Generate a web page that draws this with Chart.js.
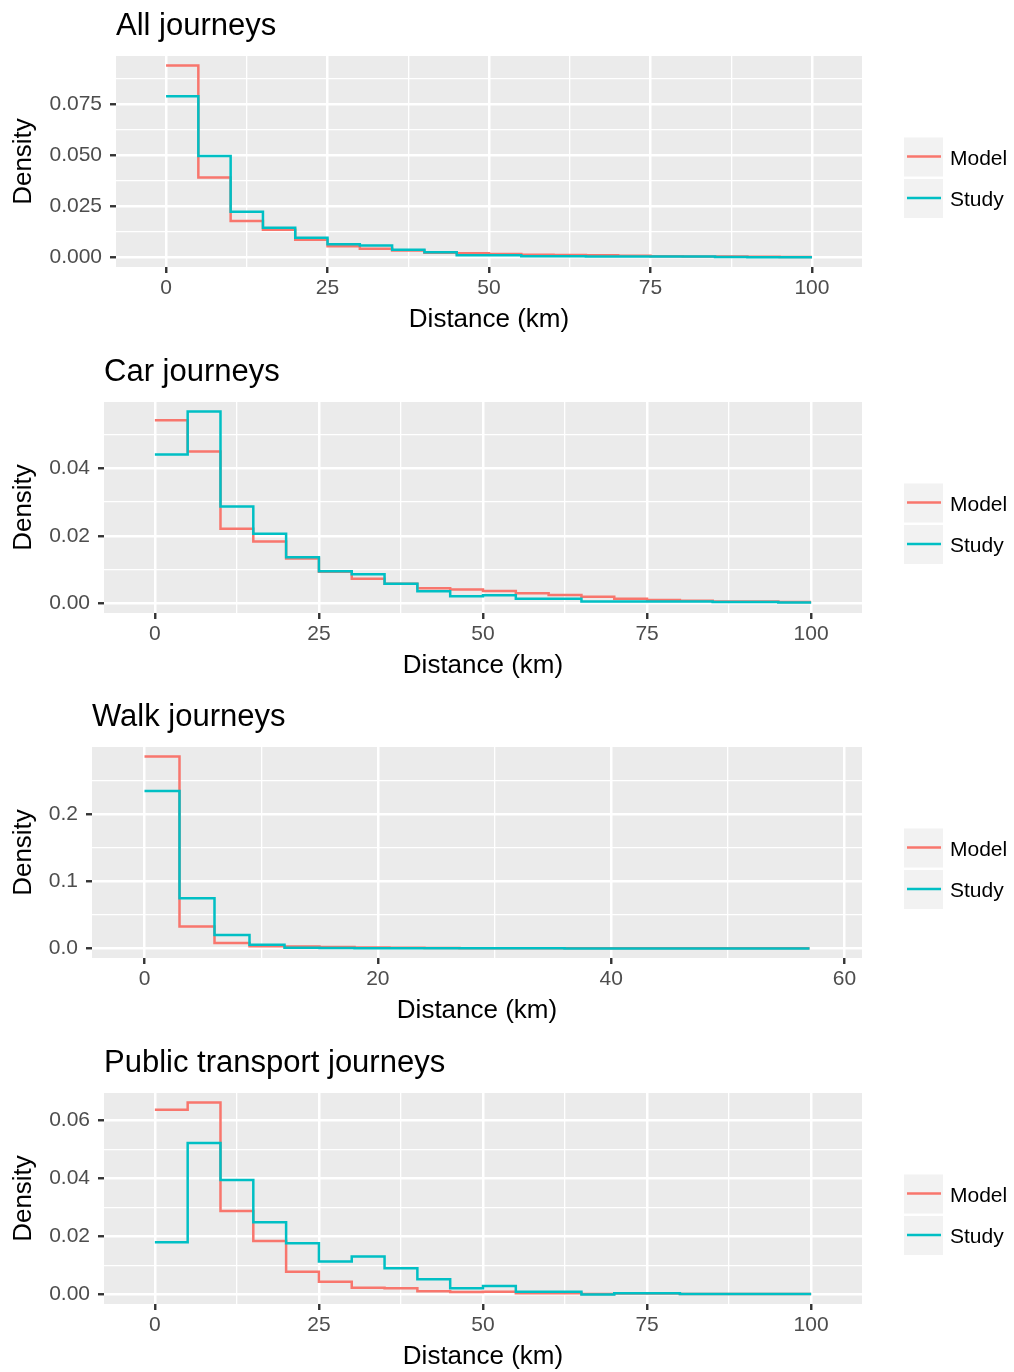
<!DOCTYPE html>
<html>
<head>
<meta charset="utf-8">
<script src="https://cdn.jsdelivr.net/npm/chart.js@4.4.1/dist/chart.umd.min.js"></script>
<style>
  body { margin: 0; background: #fff; width: 1014px; height: 1372px; overflow: hidden; position: relative; }
  canvas { position: absolute; left: 0; }
</style>
</head>
<body>
<canvas id="allChart" width="1014" height="346" style="top:0px"></canvas>
<canvas id="carChart" width="1014" height="346" style="top:346px"></canvas>
<canvas id="walkChart" width="1014" height="346" style="top:691px"></canvas>
<canvas id="ptChart" width="1014" height="346" style="top:1037px"></canvas>
<script>
// bin edges (km)
const edges5 = [0, 5, 10, 15, 20, 25, 30, 35, 40, 45, 50, 55, 60, 65, 70, 75, 80, 85, 90, 95, 100];
const edges3 = [0, 3, 6, 9, 12, 15, 18, 21, 24, 27, 30, 33, 36, 39, 42, 45, 48, 51, 54, 57];

// densities per bin
const allModel = [0.0941, 0.0392, 0.0178, 0.0136, 0.0087, 0.0055, 0.0043, 0.0034, 0.0023, 0.0020,
                  0.0017, 0.0013, 0.0012, 0.0010, 0.0008, 0.0006, 0.0005, 0.0004, 0.0003, 0.0002];
const allStudy = [0.0791, 0.0497, 0.0224, 0.0146, 0.0097, 0.0064, 0.0059, 0.0038, 0.0025, 0.0011,
                  0.0011, 0.0006, 0.0006, 0.0004, 0.0004, 0.0004, 0.0004, 0.0002, 0.0001, 0.0001];

const carModel = [0.0542, 0.0450, 0.0221, 0.0183, 0.0133, 0.0094, 0.0073, 0.0058, 0.0045, 0.0041,
                  0.0037, 0.0030, 0.0025, 0.0020, 0.0014, 0.0010, 0.0008, 0.0006, 0.0006, 0.0004];
const carStudy = [0.0441, 0.0568, 0.0287, 0.0206, 0.0137, 0.0095, 0.0086, 0.0058, 0.0036, 0.0021,
                  0.0024, 0.0014, 0.0014, 0.0006, 0.0006, 0.0006, 0.0006, 0.0004, 0.0004, 0.0003];

const walkModel = [0.2856, 0.0325, 0.0080, 0.0032, 0.0028, 0.0022, 0.0012, 0.0008, 0.0005, 0.0004,
                   0.0003, 0.0002, 0.0002, 0.0001, 0.0001, 0.0001, 0.0001, 0.0001, 0.0001];
const walkStudy = [0.2343, 0.0746, 0.0200, 0.0055, 0.0008, 0.0005, 0.0003, 0.0002, 0.0001, 0.0001,
                   0.0001, 0.0001, 0, 0, 0, 0, 0, 0, 0];

const ptModel = [0.0636, 0.0661, 0.0287, 0.0184, 0.0078, 0.0044, 0.0023, 0.0021, 0.0011, 0.0008,
                 0.0009, 0.0004, 0.0004, 0.0001, 0.0003, 0.0003, 0.0001, 0.0001, 0.0001, 0.0001];
const ptStudy = [0.0180, 0.0522, 0.0394, 0.0249, 0.0176, 0.0113, 0.0131, 0.0090, 0.0052, 0.0021,
                 0.0029, 0.0009, 0.0009, 0.0000, 0.0004, 0.0004, 0.0001, 0.0001, 0.0001, 0.0001];

// axis breaks (major + minor) and labels
const xBreaks100 = [0, 12.5, 25, 37.5, 50, 62.5, 75, 87.5, 100];
const xMajor100 = [0, 25, 50, 75, 100];
const xLabels100 = ['0', '25', '50', '75', '100'];
const xBreaks60 = [0, 10, 20, 30, 40, 50, 60];
const xMajor60 = [0, 20, 40, 60];
const xLabels60 = ['0', '20', '40', '60'];

const yBreaksAll = [0, 0.0125, 0.025, 0.0375, 0.05, 0.0625, 0.075, 0.0875];
const yMajorAll = [0, 0.025, 0.05, 0.075];
const yLabelsAll = ['0.000', '0.025', '0.050', '0.075'];
const yBreaksCar = [0, 0.01, 0.02, 0.03, 0.04, 0.05];
const yMajorCar = [0, 0.02, 0.04];
const yLabelsCar = ['0.00', '0.02', '0.04'];
const yBreaksWalk = [0, 0.05, 0.1, 0.15, 0.2, 0.25];
const yMajorWalk = [0, 0.1, 0.2];
const yLabelsWalk = ['0.0', '0.1', '0.2'];
const yBreaksPt = [0, 0.01, 0.02, 0.03, 0.04, 0.05, 0.06];
const yMajorPt = [0, 0.02, 0.04, 0.06];
const yLabelsPt = ['0.00', '0.02', '0.04', '0.06'];

const MODEL_COL = '#F8766D';
const STUDY_COL = '#00BFC4';

Chart.defaults.font.family = '"Liberation Sans", Arial, sans-serif';

const isIn = (list, v) => list.some(m => Math.abs(m - v) < 1e-9);

// grey panel, title and legend keys like ggplot
const ggPlugin = {
  id: 'gg',
  beforeDraw(chart) {
    const {ctx, chartArea: a} = chart;
    ctx.save();
    ctx.fillStyle = '#EBEBEB';
    ctx.fillRect(a.left, a.top, a.right - a.left, a.bottom - a.top);
    ctx.restore();
  },
  afterDraw(chart, args, o) {
    const {ctx, chartArea: a} = chart;
    ctx.save();
    ctx.fillStyle = '#000';
    ctx.textBaseline = 'alphabetic';
    ctx.font = '31px "Liberation Sans"';
    ctx.fillText(o.title, a.left, 35);
    chart.data.datasets.forEach((ds, i) => {
      const top = 137.5 + i * 41.5;
      ctx.fillStyle = '#F2F2F2';
      ctx.fillRect(904, top, 39, 39);
      ctx.strokeStyle = ds.borderColor;
      ctx.lineWidth = 2.5;
      ctx.beginPath();
      ctx.moveTo(907, top + 19);
      ctx.lineTo(941, top + 19);
      ctx.stroke();
      ctx.fillStyle = '#000';
      ctx.font = '21px "Liberation Sans"';
      ctx.fillText(ds.label, 950, top + 27);
    });
    ctx.restore();
  }
};

function stepPoints(edges, vals) {
  const pts = vals.map((v, i) => ({x: edges[i], y: v}));
  pts.push({x: edges[vals.length], y: vals[vals.length - 1]});
  return pts;
}

function makePanel(id, p) {
  const bw = p.edges[1] - p.edges[0];
  const lo = p.edges[0] - bw / 2, hi = p.edges[p.model.length] + bw / 2;
  const xPad = (hi - lo) * 0.05;
  const yTop = Math.max(...p.model, ...p.study);
  const axisGrid = major => ({
    color: '#FFFFFF',
    lineWidth: c => isIn(major, c.tick.value) ? 2.5 : 1.3,
    drawTicks: true,
    tickLength: 6,
    tickWidth: 2.4,
    tickColor: c => isIn(major, c.tick.value) ? '#333333' : 'rgba(0,0,0,0)'
  });

  new Chart(document.getElementById(id), {
    type: 'line',
    data: {
      datasets: [
        { label: 'Model', data: stepPoints(p.edges, p.model), borderColor: MODEL_COL, order: 1 },
        { label: 'Study', data: stepPoints(p.edges, p.study), borderColor: STUDY_COL, order: 0 }
      ]
    },
    options: {
      responsive: false,
      animation: false,
      devicePixelRatio: 1,
      layout: { padding: { top: 56, right: 152, left: 0, bottom: 0 } },
      elements: {
        line: { borderWidth: 2.5, stepped: true, tension: 0, fill: false },
        point: { radius: 0, hoverRadius: 0 }
      },
      plugins: {
        legend: { display: false },
        tooltip: { enabled: false },
        gg: { title: p.title }
      },
      scales: {
        x: {
          type: 'linear',
          min: lo - xPad,
          max: hi + xPad,
          afterBuildTicks: s => { s.ticks = p.xBreaks.map(v => ({value: v})); },
          afterFit: s => { s.height = 79; },
          border: { display: false },
          grid: axisGrid(p.xMajor),
          ticks: {
            autoSkip: false,
            maxRotation: 0,
            padding: 3,
            color: '#4D4D4D',
            font: { size: 21 },
            callback: v => isIn(p.xMajor, v) ? p.xLabels[p.xMajor.findIndex(m => Math.abs(m - v) < 1e-9)] : ''
          },
          title: {
            display: true,
            text: 'Distance (km)',
            color: '#000',
            font: { size: 26 },
            padding: { top: 0, bottom: 10.4 }
          }
        },
        y: {
          type: 'linear',
          min: -yTop * 0.05,
          max: yTop * 1.05,
          afterBuildTicks: s => { s.ticks = p.yBreaks.map(v => ({value: v})); },
          afterFit: s => { s.width = p.left; },
          border: { display: false },
          grid: axisGrid(p.yMajor),
          ticks: {
            autoSkip: false,
            padding: 8,
            color: '#4D4D4D',
            font: { size: 21 },
            callback: v => isIn(p.yMajor, v) ? p.yLabels[p.yMajor.findIndex(m => Math.abs(m - v) < 1e-9)] : ''
          },
          title: {
            display: true,
            text: 'Density',
            color: '#000',
            font: { size: 26 },
            padding: { top: 8.4, bottom: 0 }
          }
        }
      }
    },
    plugins: [ggPlugin]
  });
}

makePanel('allChart', {
  title: 'All journeys', left: 116, edges: edges5, model: allModel, study: allStudy,
  xBreaks: xBreaks100, xMajor: xMajor100, xLabels: xLabels100,
  yBreaks: yBreaksAll, yMajor: yMajorAll, yLabels: yLabelsAll
});
makePanel('carChart', {
  title: 'Car journeys', left: 104, edges: edges5, model: carModel, study: carStudy,
  xBreaks: xBreaks100, xMajor: xMajor100, xLabels: xLabels100,
  yBreaks: yBreaksCar, yMajor: yMajorCar, yLabels: yLabelsCar
});
makePanel('walkChart', {
  title: 'Walk journeys', left: 92, edges: edges3, model: walkModel, study: walkStudy,
  xBreaks: xBreaks60, xMajor: xMajor60, xLabels: xLabels60,
  yBreaks: yBreaksWalk, yMajor: yMajorWalk, yLabels: yLabelsWalk
});
makePanel('ptChart', {
  title: 'Public transport journeys', left: 104, edges: edges5, model: ptModel, study: ptStudy,
  xBreaks: xBreaks100, xMajor: xMajor100, xLabels: xLabels100,
  yBreaks: yBreaksPt, yMajor: yMajorPt, yLabels: yLabelsPt
});
</script>
</body>
</html>
